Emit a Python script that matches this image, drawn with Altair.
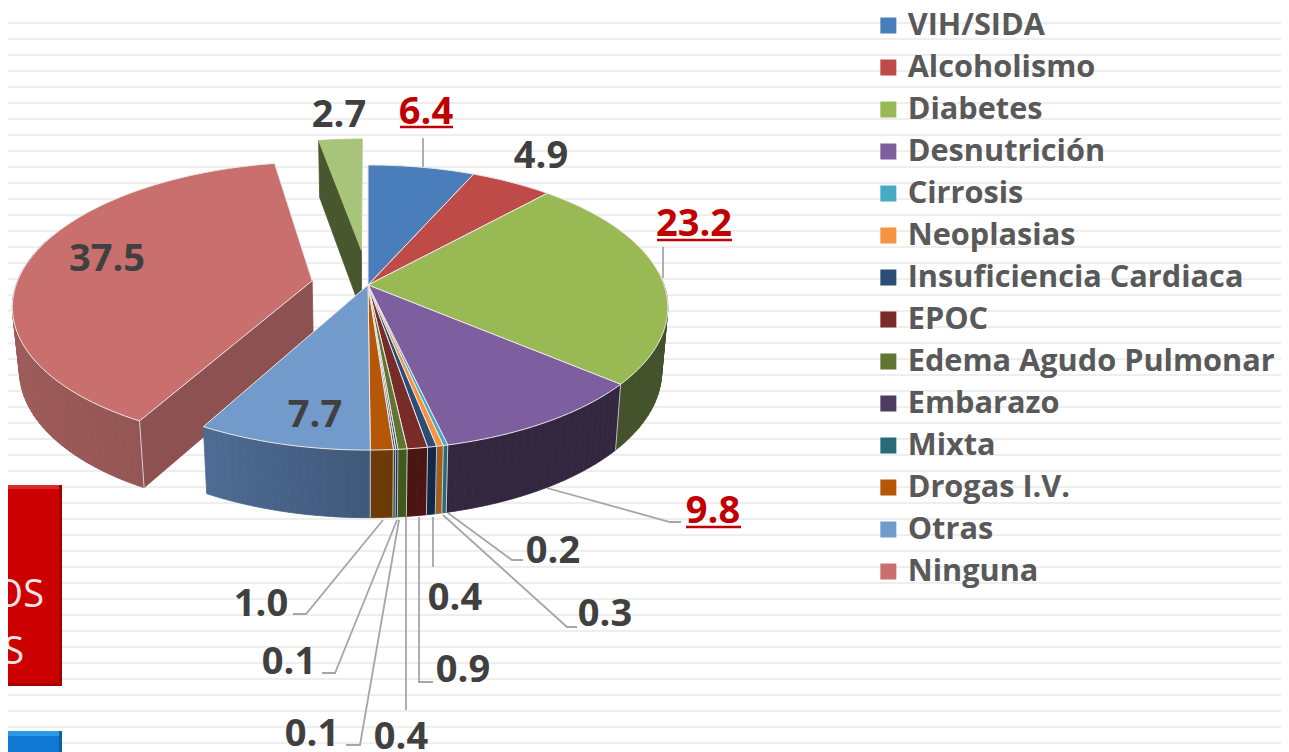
import math
import altair as alt

# ---------- chart values ----------
names = ["VIH/SIDA", "Alcoholismo", "Diabetes", "Desnutrición", "Cirrosis", "Neoplasias",
         "Insuficiencia Cardiaca", "EPOC", "Edema Agudo Pulmonar", "Embarazo", "Mixta",
         "Drogas  I.V.", "Otras", "Ninguna"]
values = [6.4, 4.9, 23.2, 9.8, 0.2, 0.3, 0.4, 0.9, 0.4, 0.1, 0.1, 1.0, 7.7, 37.5]
extra_value = 2.7
colors = ["#4a7ebb", "#be4b48", "#98b954", "#7d5fa0", "#46aac5", "#f69240", "#2c4d75",
          "#772c2a", "#5f7530", "#4d3b62", "#276a7c", "#b65708", "#729aca", "#c96f6d"]
walls = ["#2c4a70", "#70302e", "#43522a", "#32273f", "#2a6a7a", "#a0601f", "#10294a",
         "#4a1512", "#3e5a1c", "#2f2540", "#1a4a58", "#6b3a06", "#40597a", "#9b5a58"]
extra_color = "#a8c47a"
extra_wall = "#48572d"

# ---------- layout ----------
CX, CY, A, B, K = 368, 285, 296, 139, 0.158
INK, RED = "#404040", "#c00000"
FONT = "Open Sans"
LABEL_SIZE = 38

label_text = ["2.7", "6.4", "4.9", "23.2", "37.5", "7.7", "9.8", "0.2", "0.3", "0.4", "0.9", "0.4", "0.1", "0.1", "1.0"]
label_x = [339, 426, 541, 694, 107, 315, 713, 553, 605, 455, 463, 401, 312, 289, 261]
label_y = [127, 124, 168, 236, 271, 427, 523, 563, 626, 610, 682, 749, 746, 674, 616]
label_col = [INK, RED, INK, RED, INK, INK, RED, INK, INK, INK, INK, INK, INK, INK, INK]

leaders = [
    [(423, 138), (423, 168)],
    [(663, 247), (663, 278)],
    [(547, 488), (670, 522), (681, 522)],
    [(448, 513), (512, 560), (523, 560)],
    [(443, 515), (567, 627), (577, 627)],
    [(433, 517), (433, 567)],
    [(419, 517), (419, 682), (433, 682)],
    [(406, 517), (406, 710)],
    [(399, 520), (360, 745), (346, 745)],
    [(397, 520), (335, 673), (322, 673)],
    [(383, 520), (306, 614), (293, 614)],
]
underlines = [(400, 453, 127), (657, 732, 240), (686, 741, 527)]
stripe_y = list(range(7, 752, 16))
boxes = [
    (0, 62, 485, 686, "#a30000"), (0, 59, 488, 683, "#cc0000"), (0, 59, 485, 489, "#dc2a2a"),
    (0, 62, 731, 752, "#0b5fa8"), (0, 59, 734, 752, "#0f78d2"), (0, 59, 731, 736, "#2d9ae8"),
]
box_text = [("OS", 44, 607), ("S", 24, 664)]


def plane(u, v):
    d = 1 + K * v
    return CX + A * u / d, CY - B * v / d


def low(u, v):
    x, y = plane(u, v)
    return CX + (x - CX) * 0.98, y + 62.7 - 4.9 * v


def rim(theta, du=0.0, dv=0.0):
    t = math.radians(theta)
    return math.sin(t) + du, math.cos(t) + dv


def arc_steps(a, b, step=1.5):
    n = max(1, int(abs(b - a) / step))
    return [a + (b - a) * i / n for i in range(n + 1)]


def shade(hex_col, f):
    r, g, b = (int(hex_col[i:i + 2], 16) for i in (1, 3, 5))
    return "#%02x%02x%02x" % tuple(min(255, int(c * f)) for c in (r, g, b))


rows_back, rows_front, rows_top, rows_lead = [], [], [], []
pid = [0]


def poly(target, pts, fill, stroke, **extra):
    pid[0] += 1
    for i, (x, y) in enumerate(pts):
        target.append(dict(pid=pid[0], i=i, x=x, y=y, f=fill, s=stroke, **extra))


total = sum(values) + extra_value
edges = [0.0]
for v in values:
    edges.append(edges[-1] + v / total * 360)

# exploded small slice (far side)
SEP = "#ece7e7"
mid = (edges[-1] + 360) / 2
sh = 0.26
du, dv = math.sin(math.radians(mid)) * sh, math.cos(math.radians(mid)) * sh
a_rim = rim(edges[-1], du, dv)
poly(rows_back, [plane(*a_rim), plane(du, dv), low(du, dv), low(*a_rim), plane(*a_rim)], extra_wall, extra_wall)
poly(rows_back, [plane(du, dv)] + [plane(*rim(t, du, dv)) for t in arc_steps(edges[-1], 360)] + [plane(du, dv)],
     extra_color, extra_color)

# exploded large slice
a0, a1 = edges[13], edges[14]
mid = (a0 + a1) / 2
sh = 0.192
du, dv = math.sin(math.radians(mid)) * sh, math.cos(math.radians(mid)) * sh
offsets = {i: (0.0, 0.0) for i in range(13)}
offsets[13] = (du, dv)
steps = arc_steps(a0, 290, 1.5)
for t0, t1 in zip(steps[:-1], steps[1:]):
    f = 1 - 0.12 * math.sin(math.radians((t0 + t1) / 2)) - 0.1
    c = shade(walls[13], f)
    p0, p1 = rim(t0, du, dv), rim(t1, du, dv)
    poly(rows_back, [plane(*p0), plane(*p1), low(*p1), low(*p0), plane(*p0)], c, c)
corner = rim(a0, du, dv)
poly(rows_back, [plane(*corner), plane(du, dv), low(du, dv), low(*corner), plane(*corner)], "#8c5150", "#8c5150")
poly(rows_back, [plane(*corner), low(*corner)], "#f3eeee", "#f3eeee")

# main pie walls, front half only
for s in range(13):
    t0, t1 = max(edges[s], 85), min(edges[s + 1], 275)
    if t1 <= t0:
        continue
    steps = arc_steps(t0, t1, 1.5)
    for a, b in zip(steps[:-1], steps[1:]):
        f = 1 - 0.45 * math.sin(math.radians((a + b) / 2)) if s == 12 else 1.0
        c = shade(walls[s], f)
        p0, p1 = rim(a), rim(b)
        poly(rows_front, [plane(*p0), plane(*p1), low(*p1), low(*p0), plane(*p0)], c, c)
for t in edges[3:13]:
    p = rim(t)
    poly(rows_front, [plane(*p), low(*p)], "#e6e6e6", "#e6e6e6")

# top faces of the 14 named slices
for s in range(14):
    du, dv = offsets[s]
    pts = [plane(du, dv)] + [plane(*rim(t, du, dv)) for t in arc_steps(edges[s], edges[s + 1])] + [plane(du, dv)]
    poly(rows_top, pts, colors[s], SEP, name=names[s])

for n, line in enumerate(leaders):
    for i, (x, y) in enumerate(line):
        rows_lead.append(dict(pid=n, i=i, x=x, y=y))

X = alt.X("x:Q", scale=alt.Scale(domain=[8, 1281], range=[0, 1273], nice=False, zero=False), axis=None)
Y = alt.Y("y:Q", scale=alt.Scale(domain=[8, 752], range=[0, 744], nice=False, zero=False), axis=None)

stripes = alt.Chart(alt.Data(values=[{"y": y} for y in stripe_y])).mark_rule(
    color="#eeeeee", strokeWidth=2
).encode(y=Y, x=alt.value(0), x2=alt.value(1273))

rects = alt.Chart(alt.Data(values=[dict(x=a, x2=b, y=c, y2=d, f=e) for a, b, c, d, e in boxes])).mark_rect().encode(
    x=X, x2="x2:Q", y=Y, y2="y2:Q", fill=alt.Fill("f:N", scale=None)
)
rect_text = alt.Chart(alt.Data(values=[dict(t=t, x=x, y=y) for t, x, y in box_text])).mark_text(
    font=FONT, fontSize=38, color="#f4e4e4", align="right", baseline="alphabetic"
).encode(x=X, y=Y, text="t:N")


def wall_layer(rows):
    return alt.Chart(alt.Data(values=rows)).mark_line(filled=True, strokeWidth=0.8).encode(
        x=X, y=Y, detail="pid:N", order="i:Q",
        fill=alt.Fill("f:N", scale=None), stroke=alt.Stroke("s:N", scale=None)
    )


back = wall_layer(rows_back)
front = wall_layer(rows_front)

tops = alt.Chart(alt.Data(values=rows_top)).mark_line(filled=True, strokeWidth=1).encode(
    x=X, y=Y, detail="pid:N", order="i:Q",
    color=alt.Color(
        "name:N",
        scale=alt.Scale(domain=names, range=colors),
        legend=alt.Legend(
            title=None, orient="none", legendX=865, legendY=-2,
            symbolType="square", symbolSize=256, symbolStrokeWidth=0,
            labelFont=FONT, labelFontSize=30.7, labelFontWeight="bold", labelColor="#595959",
            labelOffset=4, rowPadding=2, labelLimit=420, padding=0, clipHeight=39.15,
        ),
    ),
    stroke=alt.Stroke("s:N", scale=None),
)

lead = alt.Chart(alt.Data(values=rows_lead)).mark_line(color="#a6a6a6", strokeWidth=1.8).encode(
    x=X, y=Y, detail="pid:N", order="i:Q"
)
under = alt.Chart(alt.Data(values=[dict(x=a, x2=b, y=c) for a, b, c in underlines])).mark_rule(
    color=RED, strokeWidth=2.5
).encode(x=X, x2="x2:Q", y=Y)
labels = alt.Chart(alt.Data(values=[dict(t=t, x=x, y=y, c=c) for t, x, y, c in zip(label_text, label_x, label_y, label_col)])).mark_text(
    font=FONT, fontSize=LABEL_SIZE, fontWeight="bold", baseline="alphabetic", align="center"
).encode(x=X, y=Y, text="t:N", fill=alt.Fill("c:N", scale=None))

chart = alt.layer(stripes, rects, rect_text, back, lead, front, tops, under, labels).properties(
    width=1273, height=744, padding=0,
    autosize=alt.AutoSizeParams(type="none"),
    background="white",
).configure_view(stroke=None)

chart.save("out.html", embed_options={"renderer": "svg", "actions": False})
